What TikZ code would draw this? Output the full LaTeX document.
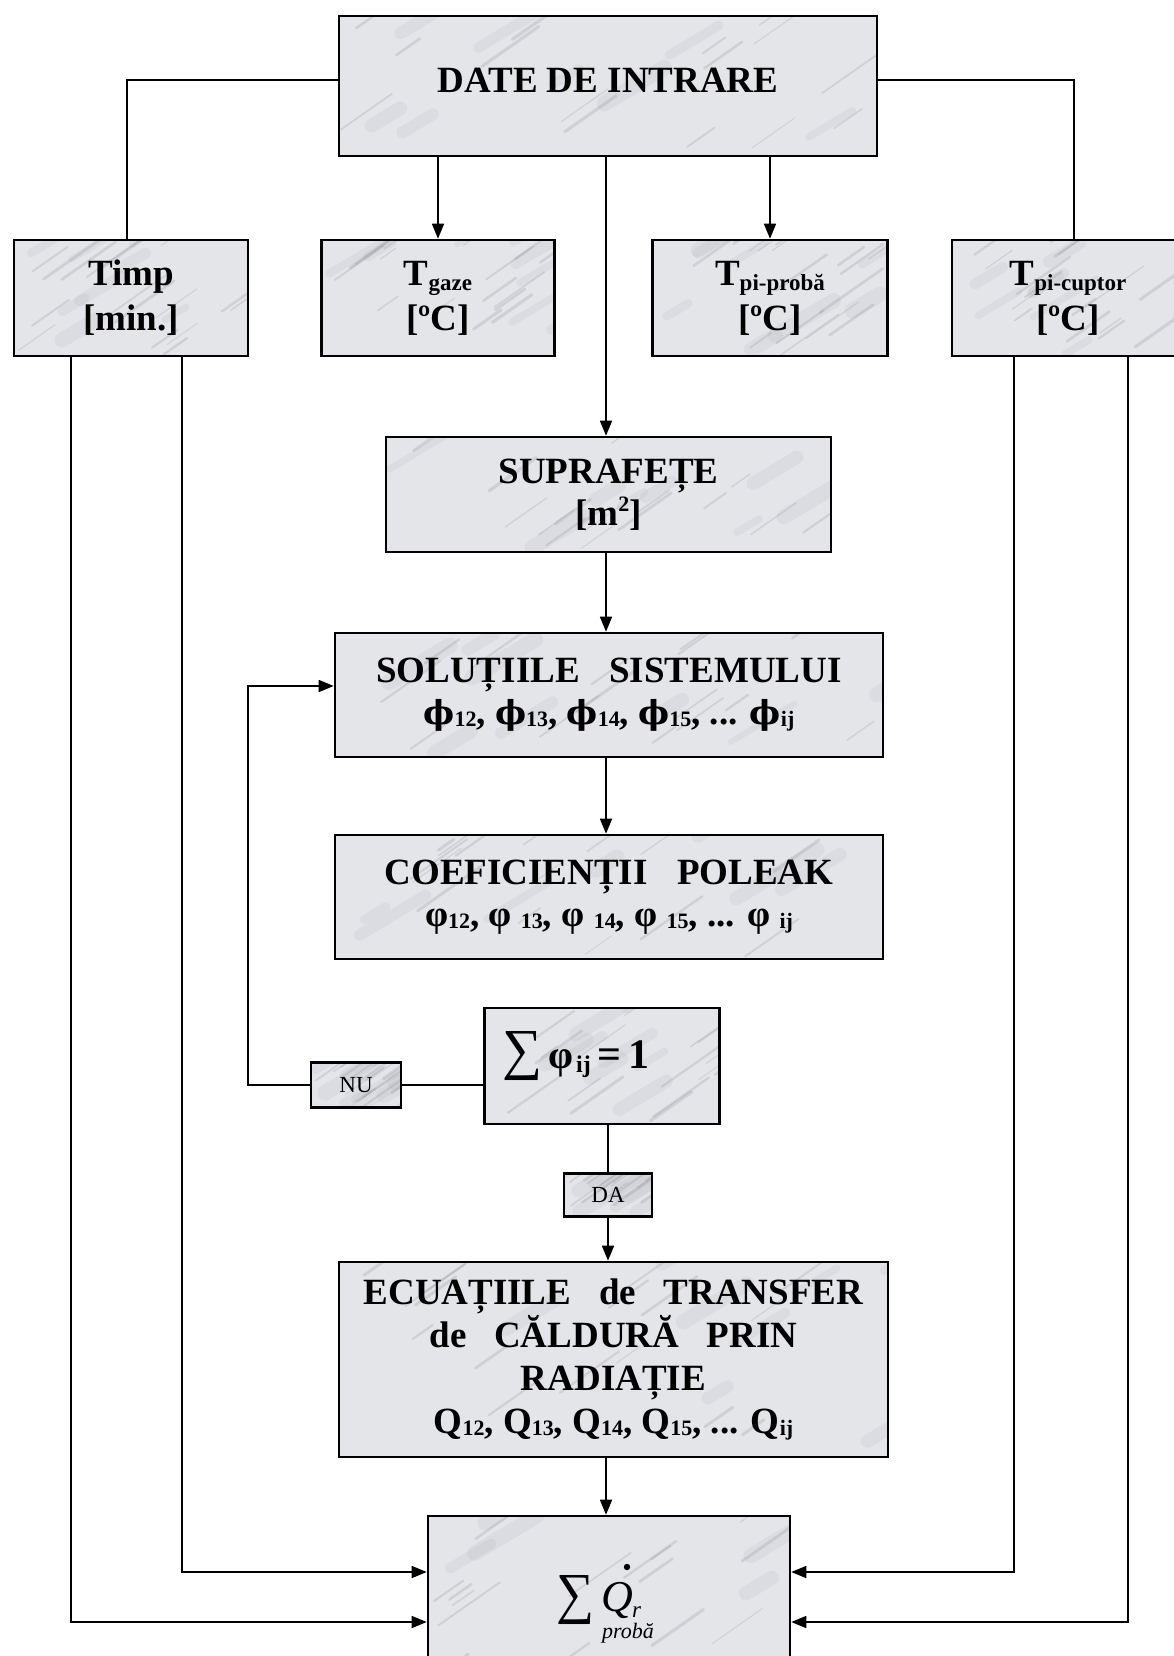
\documentclass[tikz,border=0pt]{standalone}
\usepackage{fontspec}
\setmainfont{Liberation Serif}
\newfontfamily\djv{DejaVu Serif}
\usepackage{amsmath}
\usepackage{graphicx}
\usetikzlibrary{arrows.meta,calc}
\definecolor{marblebase}{RGB}{228,229,233}
\definecolor{streak}{RGB}{135,137,146}
\newcommand\tbig{\fontsize{37}{42}\selectfont\bfseries}
\newcommand\tsub[1]{\raisebox{-2pt}{\fontsize{22}{24}\selectfont\bfseries #1}}
\newcommand\tlow[1]{\raisebox{-5pt}{\fontsize{23}{24}\selectfont\bfseries #1}}
\newcommand\phib{{\djv\bfseries\fontsize{33}{30}\selectfont ϕ}}
\newcommand\bigsum[2]{\resizebox*{#1}{#2}{\fontsize{40}{40}\selectfont\mdseries ∑}}
\tikzset{
  mbox/.style={draw=black, line width=2.6pt, fill=marblebase, inner sep=0pt, align=center, font=\tbig,
    path picture={
      \path (path picture bounding box.south west) coordinate (ppa)
            (path picture bounding box.north east) coordinate (ppb);
      \foreach \k in {1,...,8}{
        \pgfmathsetmacro{\ua}{rnd}
        \pgfmathsetmacro{\ub}{rnd}
        \pgfmathsetmacro{\uc}{6+10*rnd}
        \pgfmathsetmacro{\ud}{20+50*rnd}
        \draw[streak, opacity=0.09, line cap=round, line width={\uc pt}]
          let \p1=(ppa), \p2=(ppb) in
          ({\x1+\ua*(\x2-\x1)},{\y1+\ub*(\y2-\y1)}) -- ++({\ud*1pt},{0.6*\ud*1pt});
      }
      \foreach \k in {1,...,16}{
        \pgfmathsetmacro{\ua}{rnd}
        \pgfmathsetmacro{\ub}{rnd}
        \pgfmathsetmacro{\uc}{0.8+2.6*rnd}
        \pgfmathsetmacro{\ud}{15+50*rnd}
        \draw[streak, opacity=0.22, line cap=round, line width={\uc pt}]
          let \p1=(ppa), \p2=(ppb) in
          ({\x1+\ua*(\x2-\x1)},{\y1+\ub*(\y2-\y1)}) -- ++({\ud*1pt},{0.7*\ud*1pt});
      }
    }},
  conn/.style={line width=1.6pt, draw=black},
  arr/.style={conn, -{Triangle[length=15pt,width=12pt]}},
  small/.style={font=\fontsize{23}{24}\selectfont},
  tfont/.style={font=\fontsize{37}{45}\selectfont\bfseries}
}
\begin{document}
\begin{tikzpicture}[x=1pt,y=-1pt]
\pgfmathsetseed{7}
\useasboundingbox (0,0) rectangle (1173,1656);

\node[mbox, minimum width=538, minimum height=140, text depth=12pt] (date) at (608,86) {DATE DE INTRARE};
\node[mbox, tfont, minimum width=234, minimum height=116] (timp) at (131,298) {Timp\\{[min.]}};
\node[mbox, tfont, minimum width=233, minimum height=116] (tgaze) at (438,298) {T\tlow{gaze}\\{[ºC]}};
\node[mbox, tfont, minimum width=235, minimum height=116] (tproba) at (770,298) {T\tlow{pi-probă}\\{[ºC]}};
\node[mbox, tfont, minimum width=232, minimum height=116] (tcuptor) at (1068,298) {T\tlow{pi-cuptor}\\{[ºC]}};

\node[mbox, minimum width=445, minimum height=115] (supra) at (608.5,494.5) {SUPRAFEȚE\\{[m\raisebox{14pt}{\fontsize{22}{22}\selectfont 2}]}};
\node[mbox, minimum width=548, minimum height=124] (solut) at (609,695)
  {SOLUȚIILE\hspace{0.8em}SISTEMULUI\\\phib\tsub{12}, \phib\tsub{13}, \phib\tsub{14}, \phib\tsub{15}, ... \phib\tsub{ij}};
\node[mbox, minimum width=548, minimum height=124] (coef) at (609,897)
  {COEFICIENȚII\hspace{0.8em}POLEAK\\φ\tsub{12}, φ \tsub{13}, φ \tsub{14}, φ \tsub{15}, ... φ \tsub{ij}};

\node[mbox, minimum width=235, minimum height=116] (sumbox) at (602,1066) {};
\node[anchor=base west, inner sep=0pt] (sumtext) at (502,1068)
  {\bigsum{40pt}{49pt}\hspace{6pt}{\fontsize{40}{40}\selectfont\bfseries φ}\hspace{3pt}\raisebox{-4pt}{\fontsize{24}{24}\selectfont\bfseries ij}{\fontsize{42}{42}\selectfont\bfseries\,=\,1}};

\node[mbox, small, font=\fontsize{23}{24}\selectfont, minimum width=90, minimum height=45] (nu) at (356,1085) {NU};
\node[mbox, small, font=\fontsize{23}{24}\selectfont, minimum width=88, minimum height=43] (da) at (608,1195) {DA};

\node[mbox, font=\fontsize{37}{43}\selectfont\bfseries, minimum width=549, minimum height=195] (ecua) at (613.5,1359.5)
  {ECUAȚIILE\hspace{0.75em}de\hspace{0.75em}TRANSFER\\de\hspace{0.75em}CĂLDURĂ\hspace{0.75em}PRIN\\RADIAȚIE\\Q\tsub{12}, Q\tsub{13}, Q\tsub{14}, Q\tsub{15}, ... Q\tsub{ij}};

\node[mbox, minimum width=362, minimum height=200] (final) at (609,1616) {};
\node[anchor=base west, inner sep=0pt] (fsum) at (556,1612) {\bigsum{38pt}{49pt}};
\node[anchor=base west, inner sep=0pt, font=\fontsize{44}{44}\selectfont\itshape] (fq) at (601,1611) {Q};
\fill (627,1567) circle (3.2);
\node[anchor=base west, inner sep=0pt, font=\fontsize{23}{23}\selectfont\itshape] (fr) at (632,1617) {r};
\node[anchor=base, inner sep=0pt, font=\fontsize{22}{22}\selectfont\itshape] (fp) at (628,1638) {probă};

% connectors
\coordinate (colx) at (606,0);
\coordinate (rowA) at (0,80);
\coordinate (lx) at (127,0);
\coordinate (rx) at (1074,0);
\draw[conn] (date.west |- rowA) -| (timp.north -| lx);
\draw[conn] (date.east |- rowA) -| (tcuptor.north -| rx);
\draw[arr] (date.south -| tgaze.north) -- (tgaze.north);
\draw[arr] (date.south -| tproba.north) -- (tproba.north);
\draw[arr] (date.south -| colx) -- (supra.north -| colx);
\draw[arr] (supra.south -| colx) -- (solut.north -| colx);
\draw[arr] (solut.south -| colx) -- (coef.north -| colx);
\draw[conn] (sumbox.south -| da.north) -- (da.north);
\draw[arr] (da.south) -- (ecua.north -| da.south);
\draw[arr] (ecua.south -| colx) -- (final.north -| colx);
\draw[conn] (nu.east) -- (sumbox.west |- nu.east);
\coordinate (loopc) at (248,686);
\draw[arr] (nu.west) -| (loopc) -- (loopc -| solut.west);

\coordinate (inA) at (182,1572);
\coordinate (inB) at (71,1622);
\coordinate (inC) at (1014,1572);
\coordinate (inD) at (1128,1622);
\draw[arr] (timp.south -| inA) |- (final.west |- inA);
\draw[arr] (timp.south -| inB) |- (final.west |- inB);
\draw[arr] (tcuptor.south -| inC) |- (final.east |- inC);
\draw[arr] (tcuptor.south -| inD) |- (final.east |- inD);
\end{tikzpicture}
\end{document}
